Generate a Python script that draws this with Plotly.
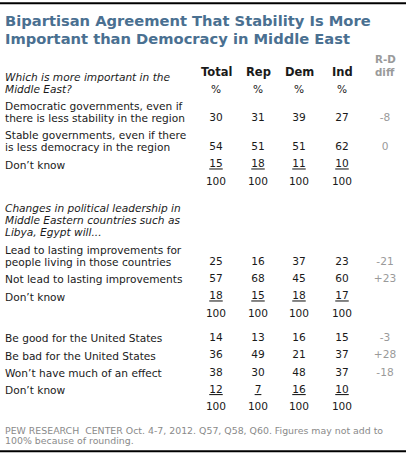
import plotly.graph_objects as go

# ---- data ----
title_lines = ["Bipartisan Agreement That Stability Is More",
               "Important than Democracy in Middle East"]
columns = ["Total", "Rep", "Dem", "Ind"]
diff_header = ["R-D", "diff"]

q1_question = ["Which is more important in the", "Middle East?"]
q1_labels = [
    ["Democratic governments, even if", "there is less stability in the region"],
    ["Stable governments, even if there", "is less democracy in the region"],
    ["Don\u2019t know"],
]
q1_total = [30, 54, 15]
q1_rep = [31, 51, 18]
q1_dem = [39, 51, 11]
q1_ind = [27, 62, 10]
q1_diff = ["-8", "0", ""]

q2_question = ["Changes in political leadership in",
               "Middle Eastern countries such as",
               "Libya, Egypt will..."]
q2_labels = [
    ["Lead to lasting improvements for", "people living in those countries"],
    ["Not lead to lasting improvements"],
    ["Don\u2019t know"],
]
q2_total = [25, 57, 18]
q2_rep = [16, 68, 15]
q2_dem = [37, 45, 18]
q2_ind = [23, 60, 17]
q2_diff = ["-21", "+23", ""]

q3_labels = [
    ["Be good for the United States"],
    ["Be bad for the United States"],
    ["Won\u2019t have much of an effect"],
    ["Don\u2019t know"],
]
q3_total = [14, 36, 38, 12]
q3_rep = [13, 49, 30, 7]
q3_dem = [16, 21, 48, 16]
q3_ind = [15, 37, 37, 10]
q3_diff = ["-3", "+28", "-18", ""]

totals_row = [100, 100, 100, 100]

source_lines = ["PEW RESEARCH  CENTER Oct. 4-7, 2012. Q57, Q58, Q60. Figures may not add to",
                "100% because of rounding."]

# ---- layout ----
W, H = 409, 455
FONT = "DejaVu Sans"
BODY = 10.6
TITLE_COLOR = "#4a7091"
TEXT_COLOR = "#1a1a1a"
GRAY = "#9a9a9a"
col_x = [216, 258, 299, 342]
diff_x = 385
label_x = 3
line_h = 12
row_h = 17.4

fig = go.Figure()
annotations = []


def label(text, y, italic=False, color=TEXT_COLOR, size=BODY, x=label_x):
    if italic:
        text = "<i>" + text + "</i>"
    annotations.append(dict(x=x, y=y, xref="x", yref="y", text=text,
                            showarrow=False, xanchor="left", yanchor="middle",
                            font=dict(family=FONT, size=size, color=color)))


def value_row(vals, y, underline=False, color=TEXT_COLOR):
    txt = [("<u>%s</u>" % v) if underline else str(v) for v in vals]
    fig.add_trace(go.Scatter(x=col_x[:len(vals)], y=[y] * len(vals), mode="text",
                             text=txt, textposition="middle center",
                             textfont=dict(family=FONT, size=BODY, color=color),
                             hoverinfo="skip", showlegend=False))


def diff_cell(v, y):
    if v:
        fig.add_trace(go.Scatter(x=[diff_x], y=[y], mode="text", text=[v],
                                 textposition="middle center",
                                 textfont=dict(family=FONT, size=BODY, color=GRAY),
                                 hoverinfo="skip", showlegend=False))


def block(labels, cols, diffs, y):
    n = len(labels)
    for i in range(n):
        lines = labels[i]
        for j, ln in enumerate(lines):
            label(ln, y + j * line_h)
        vy = y + (len(lines) - 1) * line_h
        value_row([c[i] for c in cols], vy, underline=(i == n - 1))
        diff_cell(diffs[i], vy)
        y = vy + row_h
    value_row(totals_row, y)
    return y


# title
for k, t in enumerate(title_lines):
    label("<b>%s</b>" % t, 20 + k * 18, color=TITLE_COLOR, size=14.7)

# header
for cx, c in zip(col_x, columns):
    annotations.append(dict(x=cx, y=72, xref="x", yref="y", text="<b>%s</b>" % c,
                            showarrow=False, font=dict(family=FONT, size=11.5, color=TEXT_COLOR)))
    annotations.append(dict(x=cx, y=89, xref="x", yref="y", text="%",
                            showarrow=False, font=dict(family=FONT, size=BODY, color=TEXT_COLOR)))
for k, t in enumerate(diff_header):
    annotations.append(dict(x=diff_x, y=59 + k * 13, xref="x", yref="y", text="<b>%s</b>" % t,
                            showarrow=False, font=dict(family=FONT, size=10.3, color=GRAY)))

for j, q in enumerate(q1_question):
    label(q, 77 + j * line_h, italic=True)

y_end = block(q1_labels, [q1_total, q1_rep, q1_dem, q1_ind], q1_diff, 106)

for j, q in enumerate(q2_question):
    label(q, 208 + j * line_h, italic=True)

y_end = block(q2_labels, [q2_total, q2_rep, q2_dem, q2_ind], q2_diff, 250)
y_end = block(q3_labels, [q3_total, q3_rep, q3_dem, q3_ind], q3_diff, y_end + 24)

# source
for k, t in enumerate(source_lines):
    label(t, 430 + k * 10.5, color="#8a8a8a", size=9.4)

fig.update_layout(
    width=W, height=H,
    margin=dict(l=0, r=0, t=0, b=0),
    paper_bgcolor="white", plot_bgcolor="white",
    xaxis=dict(range=[0, W], visible=False, fixedrange=True),
    yaxis=dict(range=[H, 0], visible=False, fixedrange=True),
    annotations=annotations,
    # rules at top and bottom
    shapes=[
        dict(type="rect", xref="x", yref="y", x0=0, x1=406, y0=2.2, y1=4.2,
             fillcolor="black", line=dict(width=0), layer="above"),
        dict(type="rect", xref="x", yref="y", x0=0, x1=406, y0=450.2, y1=452.2,
             fillcolor="black", line=dict(width=0), layer="above"),
    ],
)

fig.write_html("out.html", config={"displayModeBar": False},
               post_script="document.body.style.margin='0';document.body.style.overflow='hidden';")
